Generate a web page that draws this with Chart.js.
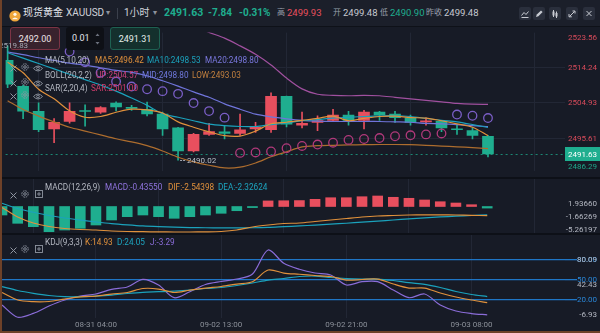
<!DOCTYPE html>
<html lang="zh">
<head>
<meta charset="utf-8">
<title>现货黄金 XAUUSD 1小时</title>
<script src="https://cdn.jsdelivr.net/npm/chart.js@4.4.1/dist/chart.umd.min.js"></script>
<style>
  html, body { margin: 0; padding: 0; background: #171b26; }
  #box { position: relative; width: 600px; height: 333px; overflow: hidden; background: #171b26;
         font-family: Roboto, "Noto Sans CJK SC", sans-serif; }
  #box canvas { position: absolute; left: 0; }
  .a { position: absolute; white-space: nowrap; }
  .hd { top: 0; height: 26px; line-height: 26px; font-size: 10px; color: #d0d3da; }
  .lg { height: 12px; line-height: 12px; font-size: 8.2px; color: #b3b7c1; }
  .ob { top: 27px; height: 23px; line-height: 23px; font-size: 9px; text-align: center; border-radius: 3px; box-sizing: border-box; }
  .ib { top: 7px; width: 12px; height: 13px; background: #2a2f3c; border-radius: 2px; }
  .ib svg { display: block; }
</style>
</head>
<body>
<div id="box">
  <div class="a" style="left:0;top:0;width:600px;height:26px;background:#1b1f2a"></div>
  <div class="a" style="left:0;top:26px;width:600px;height:1px;background:#0e1118"></div>
  <canvas id="main" width="600" height="150" style="top:27px"></canvas>
  <div class="a" style="left:0;top:177px;width:600px;height:2px;background:#0d1017"></div>
  <canvas id="macd" width="600" height="54" style="top:179px"></canvas>
  <div class="a" style="left:0;top:233px;width:600px;height:2px;background:#0d1017"></div>
  <canvas id="kdj" width="600" height="98" style="top:235px"></canvas>
  <div id="ui"></div>
  <div class="a" style="left:0;top:0;width:2px;height:333px;background:#6e4128"></div>
  <div class="a" style="left:0;top:331px;width:600px;height:2px;background:#6e4128"></div>
</div>
<script>
// 1h candles, oldest first
const opens  = [2516.00, 2509.27, 2502.77, 2498.19, 2500.12, 2502.95, 2502.53, 2504.87, 2503.75, 2503.25,
                2502.04, 2498.43, 2492.41, 2496.74, 2497.40, 2496.98, 2498.19, 2497.95, 2506.62, 2499.15,
                2499.88, 2500.36, 2501.80, 2500.36, 2502.53, 2502.04, 2501.08, 2500.00, 2500.12, 2498.20,
                2497.71, 2496.26];
const highs  = [2519.83, 2509.60, 2504.94, 2500.84, 2504.94, 2504.45, 2504.00, 2505.25, 2504.30, 2505.18,
                2502.53, 2498.60, 2497.00, 2499.63, 2498.91, 2502.04, 2499.88, 2507.59, 2506.70, 2502.53,
                2501.56, 2503.25, 2502.77, 2503.01, 2502.77, 2502.77, 2501.80, 2501.08, 2500.36, 2499.15,
                2498.43, 2496.50];
const lows   = [2508.90, 2500.84, 2497.47, 2494.57, 2499.63, 2498.91, 2502.20, 2502.84, 2503.00, 2501.56,
                2496.50, 2490.02, 2492.20, 2496.50, 2495.54, 2496.50, 2497.22, 2497.22, 2498.67, 2498.43,
                2497.71, 2500.10, 2499.15, 2498.19, 2500.36, 2499.88, 2499.15, 2499.15, 2497.47, 2496.74,
                2495.54, 2490.90];
const closes = [2509.80, 2502.77, 2497.95, 2499.88, 2502.77, 2502.70, 2503.73, 2503.90, 2503.50, 2502.04,
                2498.19, 2492.41, 2496.74, 2497.47, 2497.00, 2497.95, 2498.67, 2506.62, 2499.39, 2499.63,
                2500.36, 2501.80, 2500.36, 2502.53, 2501.80, 2501.08, 2499.88, 2500.25, 2498.43, 2497.95,
                2496.50, 2491.63];

// MA(5,10,20) and BOLL(20,2,2); MID is the same curve as MA20
const ma5  = [2515.5, 2512.8, 2508.5, 2506.0, 2502.9, 2501.2, 2501.4, 2502.5, 2503.3, 2503.1,
              2502.3, 2500.0, 2498.6, 2497.4, 2496.4, 2496.3, 2497.6, 2499.5, 2499.9, 2500.4,
              2500.9, 2501.5, 2500.3, 2500.9, 2501.4, 2501.5, 2501.1, 2501.0, 2500.3, 2499.5,
              2498.6, 2496.42];
const ma10 = [2518.0, 2516.6, 2515.2, 2513.8, 2512.4, 2511.0, 2509.6, 2508.0, 2506.2, 2504.3,
              2502.1, 2501.2, 2500.3, 2499.4, 2499.0, 2498.8, 2498.8, 2499.3, 2499.7, 2500.3,
              2500.6, 2501.0, 2501.2, 2501.4, 2501.5, 2501.6, 2501.4, 2500.9, 2500.4, 2500.0,
              2499.3, 2498.53];
const ma20 = [2518.2, 2517.5, 2516.7, 2516.0, 2515.3, 2514.8, 2514.1, 2513.4, 2512.9, 2512.0,
              2510.7, 2509.3, 2507.8, 2506.4, 2504.7, 2503.3, 2502.0, 2501.3, 2500.8, 2500.4,
              2500.2, 2500.1, 2500.1, 2500.1, 2500.1, 2500.0, 2499.9, 2499.6, 2499.5, 2499.3,
              2499.0, 2498.80];
const bollUp  = [2533.0, 2532.5, 2532.0, 2531.5, 2531.0, 2530.5, 2530.0, 2529.5, 2529.0, 2528.3,
                 2527.5, 2526.5, 2525.0, 2523.3, 2521.8, 2519.8, 2517.6, 2514.8, 2511.4, 2508.6,
                 2507.2, 2506.9, 2506.8, 2506.9, 2506.8, 2506.4, 2506.0, 2505.6, 2505.2, 2504.8,
                 2504.6, 2504.57];
const bollLow = [2505.5, 2503.2, 2501.5, 2500.0, 2498.6, 2497.6, 2496.6, 2495.6, 2494.8, 2493.8,
                 2492.4, 2490.8, 2489.6, 2488.7, 2488.0, 2488.2, 2489.3, 2490.9, 2492.2, 2493.5,
                 2493.8, 2493.9, 2494.0, 2494.05, 2494.1, 2494.1, 2494.05, 2493.9, 2493.7, 2493.5,
                 2493.3, 2493.03];
// SAR(2,20,4)
const sar = [2526.5, 2525.5, 2523.0, 2520.6, 2518.3, 2515.5, 2512.8, 2510.5, 2509.2, 2508.5,
             2508.0, 2507.3, 2504.9, 2502.8, 2501.1, 2491.92, 2492.04, 2492.28, 2493.13, 2493.73,
             2494.09, 2494.57, 2495.30, 2495.54, 2495.78, 2496.26, 2496.50, 2496.74, 2496.98, 2501.90,
             2501.60, 2501.00];

// MACD(12,26,9)
const macdHist = [-2.36, -4.67, -5.61, -7.00, -6.53, -6.06, -5.14, -3.75, -2.83, -2.36,
                  -2.83, -3.28, -2.83, -2.36, -1.89, -1.17, -0.30, 1.55, 1.60, 1.65,
                  2.00, 2.44, 2.44, 2.72, 2.92, 2.56, 2.28, 1.81, 1.33, 0.97,
                  0.50, -0.43550];
const dif = [-0.28, -2.92, -4.58, -5.56, -6.11, -6.39, -6.53, -6.81, -6.94, -7.00,
             -7.05, -7.08, -7.08, -7.05, -6.94, -6.53, -5.69, -5.14, -4.72, -4.58,
             -4.17, -3.75, -3.33, -2.92, -2.64, -2.50, -2.36, -2.31, -2.31, -2.36,
             -2.45, -2.54398];
const dea = [0.90, -0.55, -1.60, -2.50, -3.20, -3.80, -4.30, -4.75, -5.10, -5.40,
             -5.60, -5.75, -5.85, -5.90, -5.95, -5.95, -5.90, -5.80, -5.60, -5.40,
             -5.15, -4.90, -4.65, -4.35, -4.05, -3.75, -3.45, -3.15, -2.90, -2.70,
             -2.50, -2.32624];

// KDJ(9,3,3)
const kLine = [30.2, 18.9, 16.4, 16.7, 20.4, 23.7, 24.9, 27.9, 30.2, 36.2,
               35.4, 30.2, 33.9, 36.9, 39.2, 42.9, 46.4, 63.9, 59.4, 57.6,
               55.7, 54.2, 48.9, 49.7, 50.4, 42.9, 36.9, 36.9, 29.4, 23.4,
               18.9, 14.93];
const dLine = [38.9, 33.2, 29.0, 25.7, 23.9, 23.9, 24.9, 26.4, 28.7, 30.5,
               31.4, 32.4, 33.9, 36.2, 37.7, 40.7, 44.4, 48.9, 51.2, 54.2,
               54.9, 52.7, 51.2, 50.4, 50.4, 48.2, 44.9, 42.5, 37.7, 31.7,
               27.2, 24.05];
const jLine = [11.4, -6.93, -1.1, 9.9, 18.9, 24.9, 27.9, 35.0, 38.4, 50.0,
               41.4, 22.4, 31.4, 42.2, 46.7, 50.4, 57.9, 93.9, 74.0, 65.0,
               59.4, 56.4, 41.4, 46.4, 46.4, 33.9, 22.4, 27.9, 11.4, 2.4,
               -1.4, -3.29];

// axis ticks
const timeIdx    = [6, 14, 22, 30];
const timeLabels = ['08-31 04:00', '09-02 13:00', '09-02 21:00', '09-03 08:00'];
const priceTicks = [2523.56, 2514.24, 2504.93, 2495.61, 2486.29];
const macdTicks  = [1.93660, -1.66269, -5.26197];
const kdjLevels  = [80, 50, 20];
const kdjMarks   = [80.09, 42.43, -6.93];

const UP = '#e84f5e', DOWN = '#1fae8f', GRID = '#222735', TXT = '#b4b8c2';
const C_MA5 = '#e0913c', C_MA10 = '#1ba2bc', C_MA20 = '#6f74d9', C_UP = '#a0509f', C_LOW = '#ad6d2e';
const C_J = '#8a6cd8', LEVEL = '#1f76c6';
const last = closes.length - 1;

const pts = arr => arr.map((v, i) => ({ x: i, y: v }));
const line = (data, color, order) => ({
  type: 'line', data: pts(data), borderColor: color, borderWidth: 1.2,
  pointRadius: 0, tension: 0.3, fill: false, order
});

// right-hand value labels, kept inside the plot height
const axisText = {
  id: 'axisText',
  afterDraw(chart, args, o) {
    const { ctx, chartArea: a } = chart;
    const ys = chart.scales.y;
    ctx.save();
    ctx.font = '8px Roboto';
    ctx.textAlign = 'right';
    ctx.textBaseline = 'middle';
    o.items.forEach(it => {
      let y = ys.getPixelForValue(it.v) + (o.offset || 0);
      y = Math.min(Math.max(y, a.top + o.pad), a.bottom - o.pad);
      if (it.bg) {
        ctx.fillStyle = it.bg;
        ctx.fillRect(a.right, y - 7, chart.width - a.right, 14);
      }
      ctx.fillStyle = it.color;
      ctx.fillText(it.text, chart.width - 3, y + 0.5);
    });
    ctx.restore();
  }
};

// dotted line at the last close
const lastLine = {
  id: 'lastLine',
  beforeDatasetsDraw(chart) {
    const { ctx, chartArea: a } = chart;
    const y = Math.round(chart.scales.y.getPixelForValue(closes[last])) + 0.5;
    ctx.save();
    ctx.strokeStyle = 'rgba(31,174,143,0.75)';
    ctx.setLineDash([2, 3]);
    ctx.lineWidth = 1;
    ctx.beginPath(); ctx.moveTo(a.left, y); ctx.lineTo(a.right, y); ctx.stroke();
    ctx.restore();
  }
};

// lowest low marker
const lowMark = {
  id: 'lowMark',
  afterDatasetsDraw(chart) {
    const { ctx } = chart;
    const i = lows.indexOf(Math.min(...lows));
    const x = chart.scales.x.getPixelForValue(i);
    const y = Math.round(chart.scales.y.getPixelForValue(lows[i])) + 0.5;
    ctx.save();
    ctx.strokeStyle = '#9ea3ad';
    ctx.setLineDash([2, 1]);
    ctx.beginPath(); ctx.moveTo(x + 2, y); ctx.lineTo(x + 7, y); ctx.stroke();
    ctx.font = '8px Roboto';
    ctx.fillStyle = '#b9bdc6';
    ctx.textBaseline = 'middle';
    ctx.fillText(lows[i].toFixed(2), x + 9, y + 0.5);
    ctx.restore();
  }
};

function xAxis(extra) {
  return Object.assign({
    type: 'linear', min: -0.13, max: 35.97, offset: false,
    afterBuildTicks: s => { s.ticks = timeIdx.map(v => ({ value: v })); },
    ticks: { display: false },
    grid: { color: GRID, drawTicks: false },
    border: { display: false },
    afterFit: s => { s.height = 0; }
  }, extra);
}
function yAxis(min, max, grids, extra) {
  return Object.assign({
    position: 'right', min, max,
    afterBuildTicks: s => { s.ticks = grids.map(v => ({ value: v })); },
    afterFit: s => { s.width = 35; },
    ticks: { display: false },
    grid: { color: GRID, drawTicks: false },
    border: { display: false }
  }, extra);
}
const base = {
  responsive: false, animation: false, events: [],
  layout: { padding: 0 }
};

// ---- price panel ----
const candleColor = closes.map((c, i) => c >= opens[i] ? UP : DOWN);
const mainChart = new Chart(document.getElementById('main'), {
  type: 'bar',
  data: { datasets: [
    { type: 'line', data: pts(sar), showLine: false, order: 0,
      pointRadius: 4.3, pointBorderWidth: 1.3, pointBackgroundColor: 'rgba(0,0,0,0)',
      pointBorderColor: sar.map((v, i) => v > closes[i] ? '#7a5ec6' : '#b0397a') },
    line(ma5, C_MA5, 1),
    line(ma10, C_MA10, 1),
    line(ma20, C_MA20, 1),
    line(bollUp, C_UP, 2),
    line(bollLow, C_LOW, 2),
    { data: opens.map((o, i) => ({ x: i, y: [o, closes[i]] })), backgroundColor: candleColor,
      barThickness: 11, grouped: false, minBarLength: 1, order: 4 },
    { data: lows.map((l, i) => ({ x: i, y: [l, highs[i]] })), backgroundColor: candleColor,
      barThickness: 1, grouped: false, order: 5 }
  ]},
  options: Object.assign({}, base, {
    plugins: {
      legend: { display: false }, tooltip: { enabled: false },
      axisText: { pad: 5, items: priceTicks.map(v => ({ v, text: v.toFixed(2), color: v > closes[last] ? '#d84b5b' : '#1fa88a' }))
        .concat([{ v: closes[last], text: closes[last].toFixed(2), color: '#ffffff', bg: DOWN }]) }
    },
    scales: { x: xAxis(), y: yAxis(2487.1, 2523.25, priceTicks.slice(1, 4)) }
  }),
  plugins: [axisText, lastLine, lowMark]
});

// ---- MACD panel ----
new Chart(document.getElementById('macd'), {
  type: 'bar',
  data: { datasets: [
    line(dif, C_MA5, 0),
    line(dea, C_MA10, 1),
    { data: pts(macdHist), backgroundColor: macdHist.map(v => v >= 0 ? UP : DOWN), barThickness: 10, order: 2 }
  ]},
  options: Object.assign({}, base, {
    plugins: {
      legend: { display: false }, tooltip: { enabled: false },
      axisText: { pad: 4, offset: 4, items: macdTicks.map(v => ({ v, text: v.toFixed(5), color: TXT })) }
    },
    scales: { x: xAxis(), y: yAxis(-7.36, 7.64, []) }
  }),
  plugins: [axisText]
});

// ---- KDJ panel ----
new Chart(document.getElementById('kdj'), {
  type: 'line',
  data: { datasets: [
    line(kLine, C_MA5, 0),
    line(dLine, C_MA10, 1),
    line(jLine, C_J, 2)
  ]},
  options: Object.assign({}, base, {
    plugins: {
      legend: { display: false }, tooltip: { enabled: false },
      axisText: { pad: 4, items: kdjLevels.map(v => ({ v, text: v.toFixed(2), color: '#2a86d6' }))
        .concat(kdjMarks.map(v => ({ v, text: v.toFixed(2), color: TXT }))) }
    },
    scales: {
      x: xAxis({
        ticks: { display: true, color: '#8b9099', font: { family: 'Roboto', size: 8 }, padding: 2,
                 maxRotation: 0, autoSkip: false,
                 callback: v => { const k = timeIdx.indexOf(v); return k < 0 ? '' : timeLabels[k]; } },
        afterFit: s => { s.height = 15; }
      }),
      y: yAxis(-8.05, 116.45, kdjLevels, {
        grid: { color: LEVEL, lineWidth: 1.3, drawTicks: true, tickLength: 12, tickColor: LEVEL }
      })
    }
  }),
  plugins: [axisText]
});

// ---- header, order boxes, legends ----
const ui = document.getElementById('ui');
function put(html, css) {
  const d = document.createElement('div');
  d.className = 'a';
  d.style.cssText = css;
  d.innerHTML = html;
  ui.appendChild(d);
  return d;
}
function text(str, cls, css) {
  const d = put('', css);
  d.className = 'a ' + cls;
  d.textContent = str;
  return d;
}

// coin icon
put('<svg width="12" height="12" viewBox="0 0 12 12"><circle cx="6" cy="6" r="5.6" fill="#efa63a"/>' +
    '<circle cx="6" cy="4.3" r="1.6" fill="#fff6e6"/><path d="M2.8 9.2Q6 5.6 9.2 9.2Z" fill="#fff6e6"/></svg>',
    'left:9px;top:7px;width:12px;height:12px');

const header = [
  ['现货黄金', 23, '#e3e6ec', 10, 400],
  ['XAUUSD', 66, '#d0d3da', 10, 400],
  ['▾', 106, '#8d929c', 8, 400],
  ['1小时', 124, '#d0d3da', 10, 400],
  ['▾', 153, '#8d929c', 8, 400],
  [closes[last].toFixed(2), 164, DOWN, 10.5, 700],
  ['-7.84', 208, DOWN, 10, 700],
  ['-0.31%', 239, DOWN, 10, 700],
  ['高', 277, '#9aa0ab', 8, 400],
  ['2499.93', 287, UP, 9.5, 400],
  ['开', 333, '#9aa0ab', 8, 400],
  ['2499.48', 343, '#c6c9d0', 9.5, 400],
  ['低', 380, '#9aa0ab', 8, 400],
  ['2490.90', 390, DOWN, 9.5, 400],
  ['昨收', 426, '#9aa0ab', 8, 400],
  ['2499.48', 444, '#c6c9d0', 9.5, 400]
];
header.forEach(h => text(h[0], 'hd', `left:${h[1]}px;color:${h[2]};font-size:${h[3]}px;font-weight:${h[4]}`));
put('', 'left:117px;top:8px;width:1px;height:11px;background:#3b404c');

const S = 'stroke="#c9ccd3" stroke-width="1" fill="none"';
const tools = [
  `<path d="M2.5 8.5L5 5.5L7 7.5L9.5 4.5" ${S}/><path d="M2.5 10.5H9.5" ${S}/>`,
  `<path d="M3 10L3.8 7.6L8 3.4L9.6 5L5.4 9.2Z" fill="#c9ccd3"/>`,
  `<path d="M4.5 3V10M7.5 4.5V11" ${S}/><rect x="3.5" y="4.5" width="2" height="4" fill="#c9ccd3"/><rect x="6.5" y="6" width="2" height="3.5" fill="#c9ccd3"/>`,
  `<path d="M3.5 9.5L8.5 4.5M6.5 4H9V6.5M3 7V9.8H5.8" ${S}/>`,
  `<path d="M3.5 4L8.5 9M8.5 4L3.5 9" ${S}/>`
];
[519, 533, 549, 566, 583].forEach((x, i) =>
  put(`<svg width="12" height="13" viewBox="0 0 12 13">${tools[i]}</svg>`, `left:${x}px`).className = 'a ib');

// order boxes
text('2492.00', 'ob', 'left:10px;width:50px;background:#38222d;border:1px solid #7c3445;color:#ece2e6');
text('0.01', 'ob', 'left:66px;width:38px;background:#0e1016;color:#e3e6ec;text-align:left;padding-left:6px');
put('<svg width="5" height="14" viewBox="0 0 5 14"><path d="M0.5 4L2.5 1.5L4.5 4Z M0.5 10L2.5 12.5L4.5 10Z" fill="#6c717d"/></svg>',
    'left:95px;top:31px;width:5px;height:14px');
text('2491.31', 'ob', 'left:110px;width:50px;background:#14302d;border:1px solid #1e6152;color:#e4efec');

// highest high marker, placed from the price scale
{
  const i = highs.indexOf(Math.max(...highs));
  const hx = mainChart.scales.x.getPixelForValue(i);
  const hy = mainChart.scales.y.getPixelForValue(highs[i]) + 27;
  text(highs[i].toFixed(2), 'lg', `right:${600 - (hx + 20.5)}px;top:${hy - 6}px;color:#a3a8b2;font-size:8px`);
}

const ICON = {
  x: '<svg width="7" height="7" viewBox="0 0 7 7"><path d="M0.5 0.5L6.5 6.5M6.5 0.5L0.5 6.5" stroke="#8f95a1" stroke-width="1"/></svg>',
  gear: '<svg width="8" height="8" viewBox="0 0 8 8"><circle cx="4" cy="4" r="3.2" fill="none" stroke="#8f95a1" stroke-width="1" stroke-dasharray="1.6 0.9"/><circle cx="4" cy="4" r="1.3" fill="none" stroke="#8f95a1" stroke-width="0.9"/></svg>',
  eye: '<svg width="10" height="7" viewBox="0 0 10 7"><path d="M0.5 3.5Q5 -1.5 9.5 3.5Q5 8.5 0.5 3.5Z" fill="none" stroke="#8f95a1" stroke-width="0.9"/><circle cx="5" cy="3.5" r="1.4" fill="none" stroke="#8f95a1" stroke-width="0.9"/></svg>',
  plus: '<svg width="8" height="8" viewBox="0 0 8 8"><rect x="0.5" y="0.5" width="7" height="7" fill="none" stroke="#8f95a1" stroke-width="0.9"/><path d="M4 2V6M2 4H6" stroke="#8f95a1" stroke-width="0.9"/></svg>'
};

const legends = [
  { y: 60, eye: true, name: 'MA(5,10,20)', parts: [
    ['MA5:' + ma5[last].toFixed(2), C_MA5, 95],
    ['MA10:' + ma10[last].toFixed(2), C_MA10, 147],
    ['MA20:' + ma20[last].toFixed(2), '#7a78de', 205]] },
  { y: 75, eye: true, name: 'BOLL(20,2,2)', parts: [
    ['UP:' + bollUp[last].toFixed(2), '#c8407c', 96],
    ['MID:' + ma20[last].toFixed(2), '#6f78dc', 142],
    ['LOW:' + bollLow[last].toFixed(2), '#c2803f', 192]] },
  { y: 88, eye: true, name: 'SAR(2,20,4)', parts: [
    ['SAR:' + sar[last].toFixed(2), '#d03c6c', 91]] },
  { y: 187, eye: false, name: 'MACD(12,26,9)', parts: [
    ['MACD:' + macdHist[last].toFixed(5), '#8f73dc', 105],
    ['DIF:' + dif[last].toFixed(5), C_MA5, 168],
    ['DEA:' + dea[last].toFixed(5), '#1da5c0', 218]] },
  { y: 242, eye: false, name: 'KDJ(9,3,3)', parts: [
    ['K:' + kLine[last].toFixed(2), C_MA5, 85],
    ['D:' + dLine[last].toFixed(2), '#1da5c0', 117],
    ['J:' + jLine[last].toFixed(2), C_J, 150]] }
];
legends.forEach(l => {
  put(ICON.x, `left:10px;top:${l.y - 3.5}px;width:7px;height:7px`);
  put(ICON.gear, `left:21px;top:${l.y - 4}px;width:8px;height:8px`);
  if (l.eye) put(ICON.eye, `left:33px;top:${l.y - 3.5}px;width:10px;height:7px`);
  else put(ICON.plus, `left:35px;top:${l.y - 4}px;width:8px;height:8px`);
  text(l.name, 'lg', `left:45px;top:${l.y - 6}px`);
  l.parts.forEach(p => text(p[0], 'lg', `left:${p[2]}px;top:${l.y - 6}px;color:${p[1]}`));
});
</script>
</body>
</html>
